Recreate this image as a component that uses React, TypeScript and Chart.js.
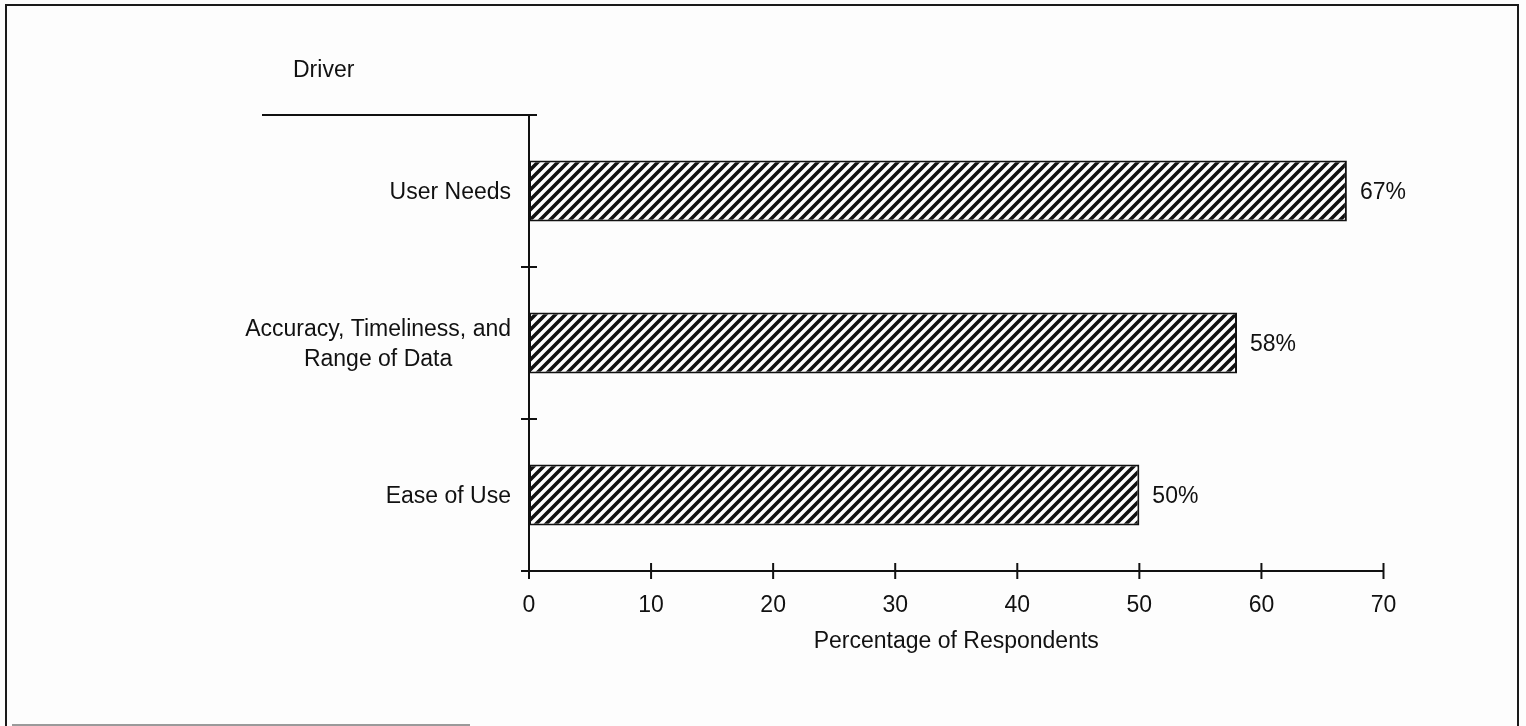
import React, { useEffect, useRef } from "react";
import { Chart, registerables } from "chart.js";

Chart.register(...registerables);

// ---- data ----
const categories: (string | string[])[] = [
  "User Needs",
  ["Accuracy, Timeliness, and", "Range of Data"],
  "Ease of Use",
];
const values: number[] = [67, 58, 50];
const valueLabels: string[] = ["67%", "58%", "50%"];
const xMin = 0;
const xMax = 70;
const xStep = 10;
const yAxisHeader = "Driver";
const xAxisTitle = "Percentage of Respondents";

const FONT = "'Liberation Sans', Arial, Helvetica, sans-serif";
const FS = 23;

function makeHatch(): CanvasPattern | string {
  const s = 10;
  const c = document.createElement("canvas");
  c.width = s;
  c.height = s;
  const g = c.getContext("2d");
  if (!g) return "#888";
  g.fillStyle = "#ffffff";
  g.fillRect(0, 0, s, s);
  g.strokeStyle = "#111111";
  g.lineWidth = 3.6;
  g.lineCap = "square";
  for (let k = -1; k <= 1; k++) {
    g.beginPath();
    g.moveTo(k * s, s);
    g.lineTo(k * s + s, 0);
    g.stroke();
  }
  const p = g.createPattern(c, "repeat");
  return p || "#888";
}

const decorPlugin = {
  id: "decor",
  beforeDraw(chart: any) {
    const { ctx, width, height } = chart;
    ctx.save();
    ctx.fillStyle = "#fdfdfd";
    ctx.fillRect(0, 0, width, height);
    ctx.restore();
  },
  afterDraw(chart: any) {
    const { ctx, chartArea } = chart;
    const xs = chart.scales.x;
    const ys = chart.scales.y;
    ctx.save();
    ctx.strokeStyle = "#111";
    ctx.fillStyle = "#111";
    ctx.lineWidth = 2;
    const left = chartArea.left;
    const top = chartArea.top;
    const bottom = chartArea.bottom;
    const tk = 8;
    // x axis line
    ctx.beginPath();
    ctx.moveTo(left - tk, bottom);
    ctx.lineTo(xs.getPixelForValue(xMax), bottom);
    ctx.stroke();
    // x ticks crossing
    xs.ticks.forEach((t: any) => {
      const px = xs.getPixelForValue(t.value);
      ctx.beginPath();
      ctx.moveTo(px, bottom - tk);
      ctx.lineTo(px, bottom + tk);
      ctx.stroke();
    });
    // y axis line
    ctx.beginPath();
    ctx.moveTo(left, top);
    ctx.lineTo(left, bottom + tk);
    ctx.stroke();
    // header line
    ctx.beginPath();
    ctx.moveTo(262, top);
    ctx.lineTo(left + tk, top);
    ctx.stroke();
    // y ticks between categories
    for (let i = 0; i < categories.length - 1; i++) {
      const py = (ys.getPixelForValue(i) + ys.getPixelForValue(i + 1)) / 2;
      ctx.beginPath();
      ctx.moveTo(left - tk, py);
      ctx.lineTo(left + tk, py);
      ctx.stroke();
    }
    // text
    ctx.font = `${FS}px ${FONT}`;
    ctx.textBaseline = "alphabetic";
    const capHalf = (FS * 0.716) / 2;
    // header
    ctx.textAlign = "left";
    ctx.fillText(yAxisHeader, 293, 77);
    // y labels
    const labelRight = left - 18;
    categories.forEach((lab, i) => {
      const cy = ys.getPixelForValue(i);
      const lines = Array.isArray(lab) ? lab : [lab];
      const spacing = 29.5;
      const firstW = ctx.measureText(lines[0]).width;
      const firstCenter = labelRight - firstW / 2;
      lines.forEach((ln, j) => {
        const capCenter = cy + (j - (lines.length - 1) / 2) * spacing;
        const by = capCenter + capHalf;
        if (j === 0) {
          ctx.textAlign = "right";
          ctx.fillText(ln, labelRight, by);
        } else {
          ctx.textAlign = "center";
          ctx.fillText(ln, firstCenter, by);
        }
      });
    });
    // value labels
    const meta = chart.getDatasetMeta(0);
    ctx.textAlign = "left";
    meta.data.forEach((bar: any, i: number) => {
      ctx.fillText(valueLabels[i], bar.x + 13, bar.y + capHalf);
    });
    // frame
    ctx.lineWidth = 2;
    ctx.strokeStyle = "#1a1a1a";
    ctx.beginPath();
    ctx.moveTo(6, 726);
    ctx.lineTo(6, 5);
    ctx.lineTo(1518, 5);
    ctx.lineTo(1518, 726);
    ctx.stroke();
    ctx.strokeStyle = "#9a9a9a";
    ctx.lineWidth = 2;
    ctx.beginPath();
    ctx.moveTo(12, 725);
    ctx.lineTo(470, 725);
    ctx.stroke();
    ctx.restore();
  },
};

export default function App() {
  const ref = useRef<HTMLCanvasElement | null>(null);
  useEffect(() => {
    if (!ref.current) return;
    const hatch = makeHatch();
    const chart = new Chart(ref.current, {
      type: "bar",
      data: {
        labels: categories as any,
        datasets: [
          {
            data: values,
            backgroundColor: hatch as any,
            borderColor: "#111",
            borderWidth: 2,
            borderSkipped: false,
            barPercentage: 0.4,
            categoryPercentage: 1,
          },
        ],
      },
      options: {
        indexAxis: "y",
        responsive: false,
        animation: false,
        layout: { padding: { left: 0, right: 142.5, top: 115, bottom: 0 } },
        plugins: {
          legend: { display: false },
          tooltip: { enabled: false },
          title: { display: false },
        },
        scales: {
          x: {
            type: "linear",
            min: xMin,
            max: xMax,
            grid: { display: false, drawTicks: false },
            border: { display: false },
            ticks: {
              stepSize: xStep,
              padding: 21,
              color: "#111",
              font: { family: FONT, size: FS },
            },
            title: {
              display: true,
              text: xAxisTitle,
              color: "#111",
              font: { family: FONT, size: FS },
              padding: { top: 0, bottom: 71 },
            },
            afterFit: (s: any) => {
              s.height = 155;
            },
          },
          y: {
            type: "category",
            grid: { display: false, drawTicks: false },
            border: { display: false },
            ticks: { display: false },
            afterFit: (s: any) => {
              s.width = 529;
            },
          },
        },
      },
      plugins: [decorPlugin],
    });
    return () => chart.destroy();
  }, []);
  return (
    <div style={{ position: "absolute", left: 0, top: 0, width: 1526, height: 726 }}>
      <canvas ref={ref} width={1526} height={726} />
    </div>
  );
}
